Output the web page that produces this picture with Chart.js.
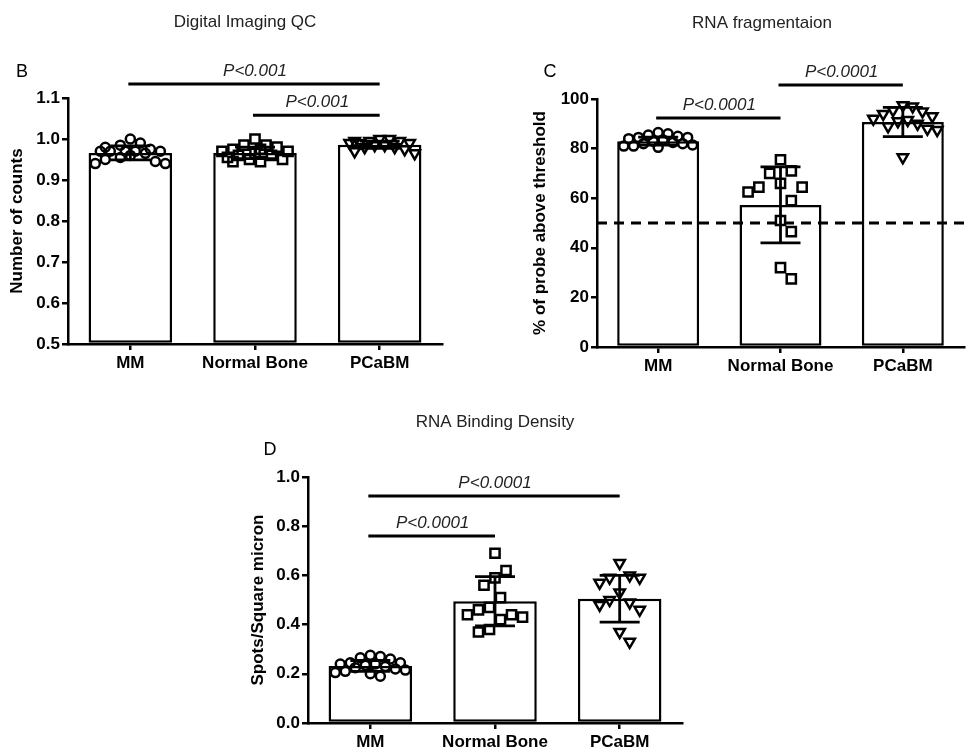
<!DOCTYPE html>
<html>
<head>
<meta charset="utf-8">
<script src="https://cdn.jsdelivr.net/npm/chart.js@4.4.0/dist/chart.umd.min.js"></script>
<style>
  html, body { margin: 0; padding: 0; background: #fff; }
  #wrap { position: relative; width: 973px; height: 751px; overflow: hidden; }
  canvas { position: absolute; }
</style>
</head>
<body>
<div id="wrap">
  <canvas id="chart-b" width="480" height="380" style="left:0;top:0"></canvas>
  <canvas id="chart-c" width="493" height="380" style="left:480px;top:0"></canvas>
  <canvas id="chart-d" width="480" height="351" style="left:230px;top:400px"></canvas>
</div>
<script>
const GROUPS = ["MM", "Normal Bone", "PCaBM"]

// ---------------------------------------- | B: Digital Imaging QC

const B_MEAN = [0.966, 0.966, 0.986]
const B_SD = [0.017, 0.014, 0.009]
const B_MM = [1.0, 0.99, 0.985, 0.975, 0.97, 0.97, 0.97, 0.97, 0.97, 0.965, 0.96, 0.955, 0.95, 0.945, 0.94, 0.94, 0.98]
const B_NB = [1.0, 0.985, 0.985, 0.98, 0.975, 0.97, 0.97, 0.965, 0.96, 0.96, 0.955, 0.95, 0.95, 0.945, 0.945, 0.975]
const B_PC = [1.0, 1.0, 0.995, 0.995, 0.99, 0.99, 0.99, 0.985, 0.985, 0.98, 0.98, 0.975, 0.97, 0.965, 0.995]
const B_TICKS = [0.5, 0.6, 0.7, 0.8, 0.9, 1.0, 1.1]
const B_LABELS = ["0.5", "0.6", "0.7", "0.8", "0.9", "1.0", "1.1"]
const B_BRACKETS = [[0, 2, 1.134, "P<0.001"], [1, 2, 1.058, "P<0.001"]]

// ---------------------------------------- | C: RNA fragmentation

const C_MEAN = [83, 57.3, 90.7]
const C_SD = [1.6, 15.3, 5.9]
const C_MM = [86.5, 86, 85.5, 85, 84.5, 84.5, 84, 83.5, 83, 82.5, 82, 82, 81.5, 81, 81, 80.5]
const C_NB = [75.5, 71, 70, 66, 64.5, 64.5, 62.5, 59, 51, 46.5, 32, 27.5]
const C_PC = [97.5, 97, 95.5, 95, 94, 93, 92, 91.5, 91, 90, 89, 88, 87.5, 76.5]
const C_TICKS = [0, 20, 40, 60, 80, 100]
const C_LABELS = ["0", "20", "40", "60", "80", "100"]
const C_THRESHOLD = 50
const C_BRACKETS = [[0, 1, 92.3, "P<0.0001"], [1, 2, 105.6, "P<0.0001"]]

// ---------------------------------------- | D: RNA Binding Density

const D_MEAN = [0.232, 0.495, 0.505]
const D_SD = [0.022, 0.1, 0.095]
const D_MM = [0.275, 0.27, 0.265, 0.26, 0.245, 0.245, 0.24, 0.24, 0.235, 0.23, 0.225, 0.22, 0.215, 0.21, 0.205, 0.2, 0.19]
const D_NB = [0.69, 0.62, 0.59, 0.56, 0.51, 0.47, 0.46, 0.44, 0.44, 0.43, 0.42, 0.38, 0.37]
const D_PC = [0.65, 0.6, 0.59, 0.59, 0.57, 0.53, 0.5, 0.49, 0.48, 0.46, 0.37, 0.33]
const D_TICKS = [0, 0.2, 0.4, 0.6, 0.8, 1.0]
const D_LABELS = ["0.0", "0.2", "0.4", "0.6", "0.8", "1.0"]
const D_BRACKETS = [[0, 2, 0.923, "P<0.0001"], [0, 1, 0.76, "P<0.0001"]]

// ---------------------------------------- | helpers

const FONT = "'Liberation Sans', Arial, sans-serif"
Chart.defaults.font.family = FONT
Chart.defaults.color = "#000"

const MARKERS = [
  { pointStyle: "circle", radius: 4.5, rotation: 0, size: 10 },
  { pointStyle: "rect", radius: 6.5, rotation: 0, size: 11 },
  { pointStyle: "triangle", radius: 6, rotation: 180, size: 10 }
]
const CAT_PX = 124.5
const MAX_HALF = 37
const Y_SQUASH = 0.5

// spread points sideways like a column scatter plot (works in pixels)
function swarm(values, pxPerUnit, size) {
  const placed = []
  const step = size * 0.5
  const kMax = Math.floor(MAX_HALF / step)
  return values.map((v, j) => {
    const py = v * pxPerUnit
    const dir = j % 2 ? -1 : 1
    let best = 0, bestGap = -1
    for (let k = 0; k <= 2 * kMax; k++) {
      const dx = dir * (k % 2 ? -1 : 1) * Math.ceil(k / 2) * step
      const gap = Math.min(Infinity, ...placed.map(p => Math.hypot(p.x - dx, (p.y - py) * Y_SQUASH)))
      if (gap >= size) { best = dx; break }
      if (gap > bestGap) { bestGap = gap; best = dx }
    }
    placed.push({ x: best, y: py })
    return best
  })
}

function overlayFor(cfg) {
  return {
    id: "overlay",
    // error bars go right after the bars, under the points
    afterDatasetDraw(chart, args) {
      if (args.index !== 0) return
      const { ctx } = chart
      const x = chart.scales.x, y = chart.scales.y
      ctx.save()
      ctx.strokeStyle = "#000"
      ctx.lineWidth = 2.8
      cfg.mean.forEach((m, i) => {
        const px = x.getPixelForValue(i)
        const hi = y.getPixelForValue(m + cfg.sd[i])
        const lo = y.getPixelForValue(m - cfg.sd[i])
        ctx.beginPath()
        ctx.moveTo(px, hi); ctx.lineTo(px, lo)
        ctx.moveTo(px - 20, hi); ctx.lineTo(px + 20, hi)
        ctx.moveTo(px - 20, lo); ctx.lineTo(px + 20, lo)
        ctx.stroke()
      })
      ctx.restore()
    },
    afterDatasetsDraw(chart) {
      if (cfg.threshold == null) return
      const { ctx, chartArea } = chart
      const ty = chart.scales.y.getPixelForValue(cfg.threshold)
      ctx.save()
      ctx.strokeStyle = "#000"
      ctx.setLineDash([10, 7])
      ctx.lineWidth = 3
      ctx.beginPath()
      ctx.moveTo(chartArea.left, ty); ctx.lineTo(chartArea.right, ty)
      ctx.stroke()
      ctx.restore()
    },
    afterDraw(chart) {
      const { ctx } = chart
      const x = chart.scales.x, y = chart.scales.y
      ctx.save()
      ctx.strokeStyle = "#000"
      ctx.fillStyle = "#222"
      ctx.lineWidth = 3
      ctx.textAlign = "center"
      ctx.textBaseline = "middle"
      ctx.font = "italic 17px " + FONT
      cfg.brackets.forEach(([a, b, v, text]) => {
        const x1 = x.getPixelForValue(a), x2 = x.getPixelForValue(b)
        const py = y.getPixelForValue(v)
        ctx.beginPath(); ctx.moveTo(x1 - 2, py); ctx.lineTo(x2, py); ctx.stroke()
        ctx.fillText(text, (x1 + x2) / 2, py - 13)
      })
      ctx.font = "17px " + FONT
      ctx.fillText(cfg.title, cfg.titlePos[0], cfg.titlePos[1])
      ctx.fillStyle = "#000"
      ctx.font = "18px " + FONT
      ctx.fillText(cfg.letter, cfg.letterPos[0], cfg.letterPos[1])
      ctx.restore()
    }
  }
}

function makeChart(id, cfg) {
  const ymin = cfg.ticks[0], ymax = cfg.ticks[cfg.ticks.length - 1]
  const pointSets = cfg.points.map((vals, i) => {
    const m = MARKERS[i]
    const offs = swarm(vals, cfg.pxPerUnit, m.size)
    return {
      type: "scatter",
      xAxisID: "x2",
      yAxisID: "y",
      data: vals.map((v, j) => ({ x: i + offs[j] / CAT_PX, y: v })),
      pointStyle: m.pointStyle,
      pointRadius: m.radius,
      pointRotation: m.rotation,
      pointBorderWidth: 2.5,
      pointBorderColor: "#000",
      pointBackgroundColor: "rgba(255,255,255,0)",
      clip: false,
      order: 1
    }
  })
  const axisFont = { size: 17, weight: "bold" }
  return new Chart(document.getElementById(id), {
    type: "bar",
    data: {
      labels: GROUPS,
      datasets: [
        {
          type: "bar",
          data: cfg.mean,
          base: ymin,
          grouped: false,
          backgroundColor: "#fff",
          borderColor: "#000",
          borderWidth: 2.5,
          borderSkipped: false,
          categoryPercentage: 0.67,
          barPercentage: 1,
          order: 2
        },
        ...pointSets
      ]
    },
    options: {
      responsive: false,
      animation: false,
      layout: { padding: cfg.pad },
      plugins: { legend: { display: false }, tooltip: { enabled: false } },
      scales: {
        x: {
          type: "category",
          offset: true,
          grid: { drawOnChartArea: false, offset: false, color: "#000", lineWidth: 2.5, tickLength: 6 },
          border: { color: "#000", width: 2.5 },
          ticks: { color: "#000", font: axisFont, padding: 3, maxRotation: 0, autoSkip: false },
          afterFit: s => { s.height = cfg.xH }
        },
        x2: { type: "linear", display: false, offset: false, min: -0.5, max: 2.5 },
        y: {
          min: ymin,
          max: ymax,
          afterBuildTicks: s => { s.ticks = cfg.ticks.map(v => ({ value: v })) },
          grid: { drawOnChartArea: false, color: "#000", lineWidth: 2.5, tickLength: 6 },
          border: { color: "#000", width: 2.5 },
          ticks: { color: "#000", font: axisFont, padding: 2, callback: (v, i) => cfg.labels[i] },
          title: { display: true, text: cfg.yTitle, color: "#000", font: axisFont, padding: 0 },
          afterFit: s => { s.width = cfg.yW }
        }
      }
    },
    plugins: [overlayFor(cfg)]
  })
}

// ---------------------------------------- | charts

const chartB = makeChart("chart-b", {
  mean: B_MEAN, sd: B_SD, points: [B_MM, B_NB, B_PC],
  ticks: B_TICKS, labels: B_LABELS, brackets: B_BRACKETS,
  yTitle: "Number of counts", title: "Digital Imaging QC", letter: "B",
  titlePos: [245, 22], letterPos: [22, 72],
  pad: { left: 7, top: 98, right: 38, bottom: 0 }, yW: 61, xH: 36, pxPerUnit: 410
})

const chartC = makeChart("chart-c", {
  mean: C_MEAN, sd: C_SD, points: [C_MM, C_NB, C_PC],
  ticks: C_TICKS, labels: C_LABELS, brackets: C_BRACKETS, threshold: C_THRESHOLD,
  yTitle: "% of probe above threshold", title: "RNA fragmentaion", letter: "C",
  titlePos: [282, 23], letterPos: [70, 72],
  pad: { left: 50, top: 99, right: 3, bottom: 0 }, yW: 67, xH: 33, pxPerUnit: 2.48
})

const chartD = makeChart("chart-d", {
  mean: D_MEAN, sd: D_SD, points: [D_MM, D_NB, D_PC],
  ticks: D_TICKS, labels: D_LABELS, brackets: D_BRACKETS,
  yTitle: "Spots/Square micron", title: "RNA Binding Density", letter: "D",
  titlePos: [265, 22], letterPos: [40, 50],
  pad: { left: 18, top: 77, right: 28, bottom: 0 }, yW: 60, xH: 28, pxPerUnit: 246
})
</script>
</body>
</html>
